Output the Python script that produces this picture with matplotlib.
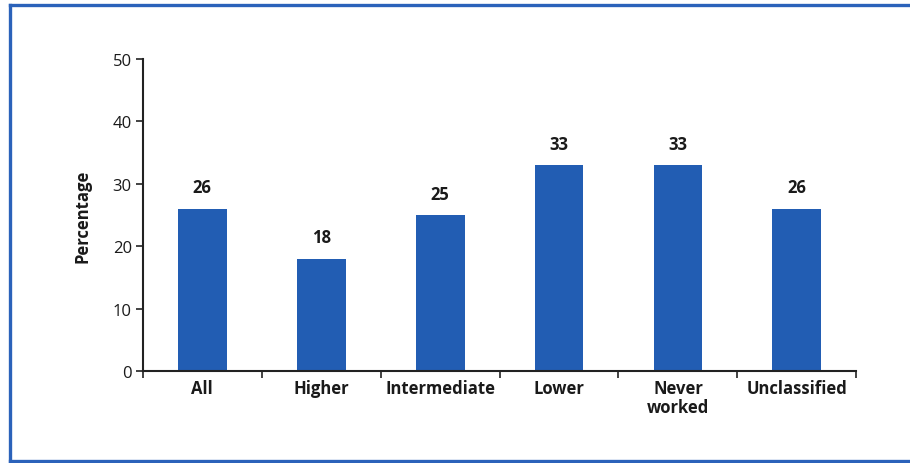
import matplotlib
matplotlib.use("Agg")
import matplotlib.pyplot as plt
from matplotlib.lines import Line2D

# Percentage by occupational class
categories = ["All", "Higher", "Intermediate", "Lower", "Never\nworked", "Unclassified"]
values = [26, 18, 25, 33, 33, 26]
yticks = [0, 10, 20, 30, 40, 50]

BAR = "#225db3"
FRAME = "#2b62ba"
TEXT = "#1a1a1a"

plt.rcParams["font.family"] = ["Open Sans", "DejaVu Sans"]

fig = plt.figure(figsize=(9.10, 4.64), dpi=100)
ax = fig.add_axes([0.157, 0.198, 0.784, 0.673])

x = list(range(len(categories)))
ax.bar(x, values, width=0.41, color=BAR, zorder=2)
for xi, v in zip(x, values):
    ax.text(xi, v + 2.0, f"{v}", ha="center", va="bottom",
            fontsize=12, fontweight="bold", color=TEXT)

ax.set_xlim(-0.5, len(categories) - 0.5)
ax.set_ylim(0, 50)
ax.set_yticks(yticks)
ax.set_yticklabels([str(t) for t in yticks], fontsize=12, color=TEXT)

# category labels between boundary ticks
ax.set_xticks([i - 0.5 for i in range(len(categories) + 1)])
ax.set_xticklabels([])
ax.set_xticks(x, minor=True)
ax.set_xticklabels(categories, minor=True, fontsize=12, fontweight="bold",
                   color=TEXT, linespacing=1.05)
ax.tick_params(axis="x", which="minor", length=0, pad=6)
ax.tick_params(axis="x", which="major", length=5, width=1.2, color="#222")
ax.tick_params(axis="y", length=5, width=1.2, color="#222", pad=3)

ax.set_ylabel("Percentage", fontsize=12, fontweight="bold", color=TEXT, labelpad=15)

for side in ("top", "right"):
    ax.spines[side].set_visible(False)
for side in ("left", "bottom"):
    ax.spines[side].set_linewidth(1.5)
    ax.spines[side].set_color("#222")

# blue box around the chart (open on the right)
W, H = 910, 464
fx = lambda px: px / W
fy = lambda py: 1 - py / H
for xs, ys in [((9.5, 9.5), (5.5, 461.5)),
               ((9.5, 910), (5.5, 5.5)),
               ((9.5, 910), (461.5, 461.5))]:
    fig.add_artist(Line2D([fx(v) for v in xs], [fy(v) for v in ys],
                          color=FRAME, linewidth=2.4, solid_capstyle="projecting"))

fig.savefig("out.png", dpi=100)
